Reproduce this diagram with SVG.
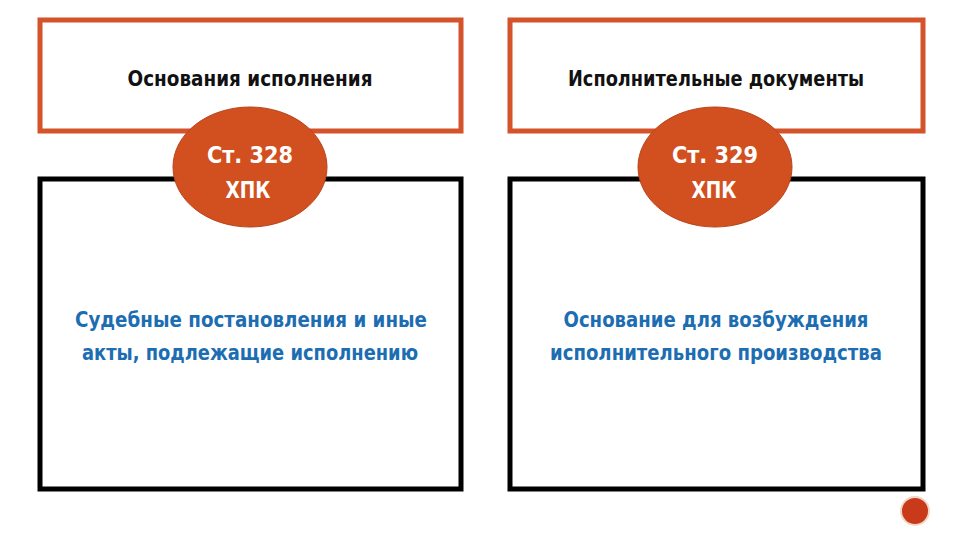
<svg xmlns="http://www.w3.org/2000/svg" width="960" height="540" viewBox="0 0 960 540">
<style>
.top{fill:#fff;stroke:#d4532a;stroke-width:5}
.body{fill:#fff;stroke:#000;stroke-width:5}
.badge{fill:#d24f1f;stroke:#b8441a;stroke-width:1}
.t{font-family:"DejaVu Sans Condensed","Liberation Sans",sans-serif;text-anchor:middle}
.h{font-size:21px;fill:#111;font-weight:bold}
.w{font-size:23px;fill:#fff;font-weight:bold}
.b{font-size:21px;fill:#1c6db2;font-weight:bold}
</style>
<rect width="960" height="540" fill="#fff"/>
<g id="left-body"><rect class="body" x="40" y="179" width="421" height="310"/>
<text class="t b" x="251" y="327" textLength="352" lengthAdjust="spacingAndGlyphs">Судебные постановления и иные</text>
<text class="t b" x="250" y="360" textLength="336" lengthAdjust="spacingAndGlyphs">акты, подлежащие исполнению</text></g>
<g id="right-body"><rect class="body" x="510" y="179" width="413" height="310"/>
<text class="t b" x="716" y="327" textLength="305" lengthAdjust="spacingAndGlyphs">Основание для возбуждения</text>
<text class="t b" x="716" y="360" textLength="332" lengthAdjust="spacingAndGlyphs">исполнительного производства</text></g>
<g id="left-head"><rect class="top" x="40" y="20" width="421" height="111"/>
<text class="t h" x="250" y="86" textLength="245" lengthAdjust="spacingAndGlyphs">Основания исполнения</text></g>
<g id="right-head"><rect class="top" x="510" y="20" width="413" height="111"/>
<text class="t h" x="716" y="86" textLength="296" lengthAdjust="spacingAndGlyphs">Исполнительные документы</text></g>
<g id="left-badge"><ellipse class="badge" cx="250" cy="167" rx="77" ry="60"/>
<text class="t w" x="250" y="163" textLength="86" lengthAdjust="spacingAndGlyphs">Ст. 328</text>
<text class="t w" x="248" y="198" textLength="45" lengthAdjust="spacingAndGlyphs">ХПК</text></g>
<g id="right-badge"><ellipse class="badge" cx="715" cy="167" rx="77" ry="60"/>
<text class="t w" x="715" y="163" textLength="86" lengthAdjust="spacingAndGlyphs">Ст. 329</text>
<text class="t w" x="714" y="198" textLength="45" lengthAdjust="spacingAndGlyphs">ХПК</text></g>
<g id="page-mark"><circle cx="915" cy="511" r="15" fill="#f3d7c8"/><circle cx="915" cy="511" r="13" fill="#c83a1a"/></g>
<g id="connectors"/>
</svg>
